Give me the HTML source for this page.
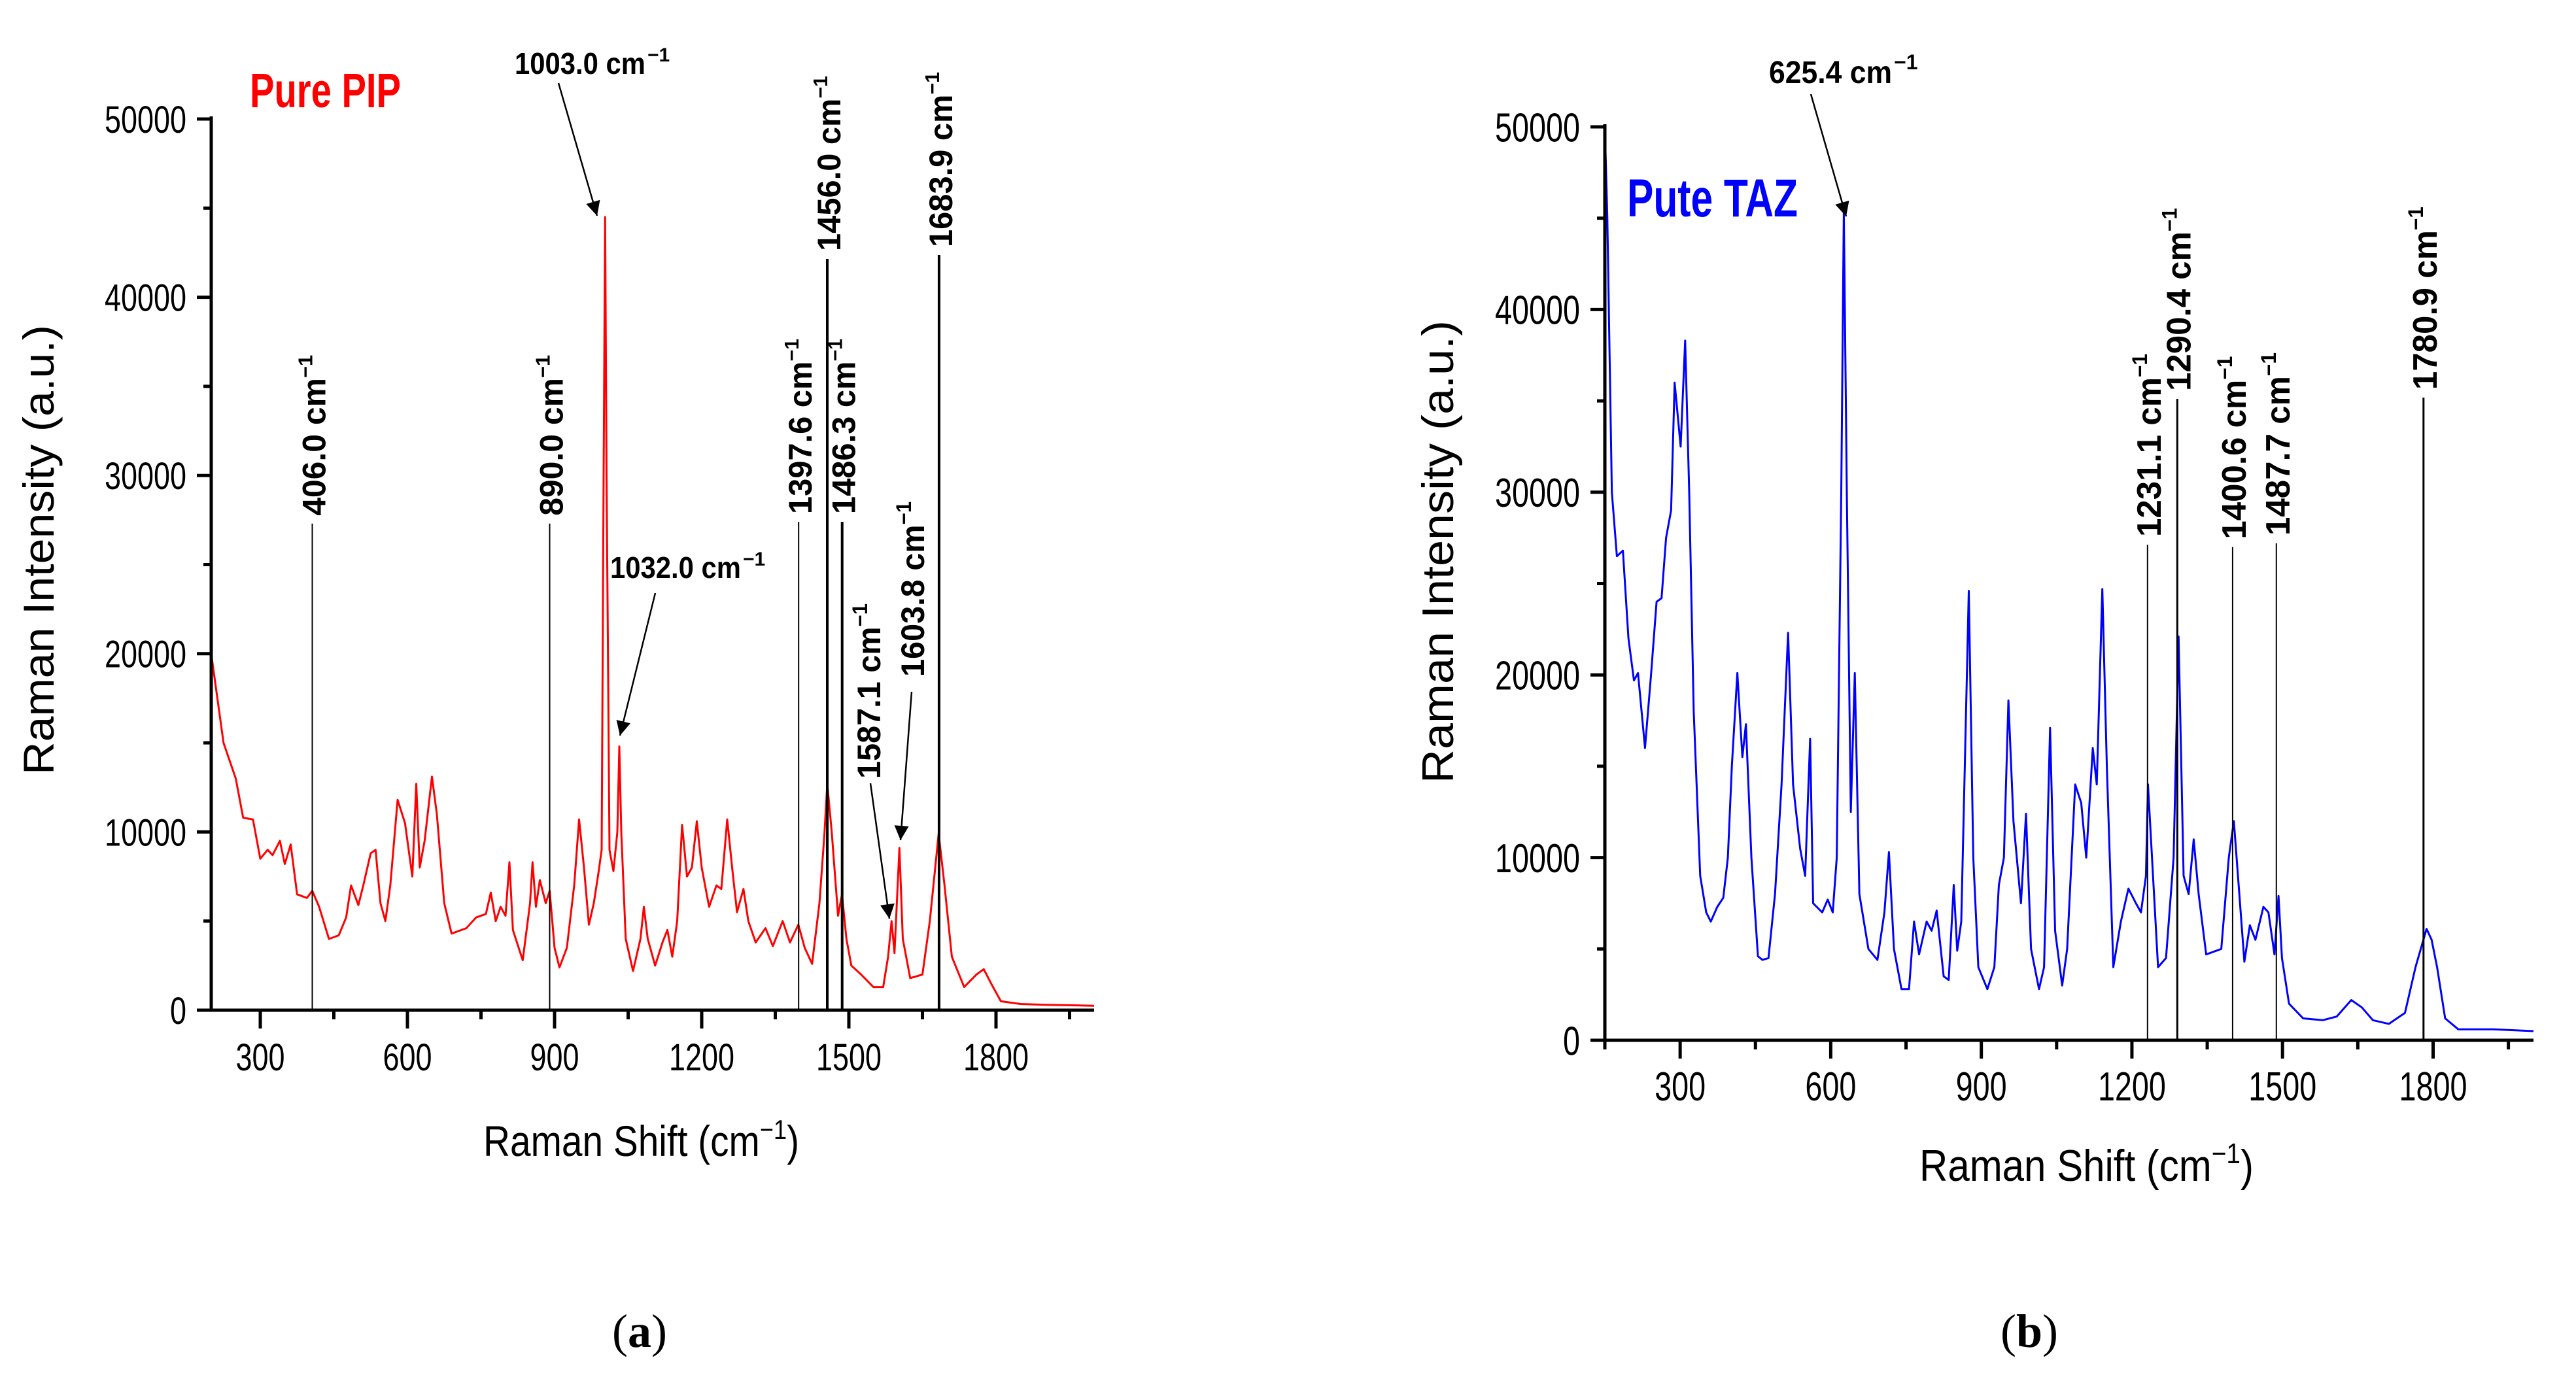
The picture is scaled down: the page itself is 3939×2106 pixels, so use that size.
<!DOCTYPE html>
<html><head><meta charset="utf-8"><style>
html,body{margin:0;padding:0;background:#fff;}
svg{display:block;}
text{font-family:"Liberation Sans",Arial,sans-serif;}
</style></head>
<body>
<svg id="fig" width="3939" height="2106" viewBox="0 0 3939 2106" xmlns="http://www.w3.org/2000/svg">
<defs>
<marker id="ahb" viewBox="0 0 10 10" refX="10" refY="5" markerWidth="36" markerHeight="22" orient="auto" markerUnits="userSpaceOnUse"><path d="M0,0 L10,5 L0,10 z" fill="#000"/></marker>
<clipPath id="clipA"><rect x="323" y="150" width="1360" height="1395"/></clipPath>
<clipPath id="clipB"><rect x="2454" y="150" width="1430" height="1441"/></clipPath>
</defs>
<g id="panelA"></g>
<g id="panelB"></g>
<!-- Panel A static text -->
<text x="382" y="164" font-size="74" font-weight="bold" fill="#ff0000" textLength="231" lengthAdjust="spacingAndGlyphs">Pure PIP</text>
<text x="82" y="841" transform="rotate(-90 82 841)" text-anchor="middle" font-size="66" textLength="688" lengthAdjust="spacingAndGlyphs">Raman Intensity (a.u.)</text>
<text x="739" y="1768" font-size="66" textLength="483" lengthAdjust="spacingAndGlyphs">Raman Shift (cm<tspan dy="-26" font-size="42">−1</tspan><tspan dy="26">)</tspan></text>
<text x="787" y="113" font-size="46" font-weight="bold" textLength="200" lengthAdjust="spacingAndGlyphs">1003.0 cm</text>
<text x="990" y="94" font-size="30" font-weight="bold">−1</text>
<line x1="854" y1="127" x2="913" y2="330" stroke="#000" stroke-width="2.5" marker-end="url(#ahb)"/>
<text x="933" y="884" font-size="46" font-weight="bold" textLength="200" lengthAdjust="spacingAndGlyphs">1032.0 cm</text>
<text x="1136" y="865" font-size="30" font-weight="bold">−1</text>
<line x1="1002" y1="907" x2="948" y2="1125" stroke="#000" stroke-width="2.5" marker-end="url(#ahb)"/>
<text x="1346" y="1191" transform="rotate(-90 1346 1191)" font-size="50" font-weight="bold" textLength="268" lengthAdjust="spacingAndGlyphs">1587.1 cm<tspan dy="-20" font-size="32">−1</tspan></text>
<line x1="1331" y1="1198" x2="1360" y2="1405" stroke="#000" stroke-width="2.5" marker-end="url(#ahb)"/>
<text x="1413" y="1035" transform="rotate(-90 1413 1035)" font-size="50" font-weight="bold" textLength="268" lengthAdjust="spacingAndGlyphs">1603.8 cm<tspan dy="-20" font-size="32">−1</tspan></text>
<line x1="1394" y1="1058" x2="1377" y2="1285" stroke="#000" stroke-width="2.5" marker-end="url(#ahb)"/>
<text x="978" y="2060" text-anchor="middle" font-size="72" style="font-family:'Liberation Serif',serif">(<tspan font-weight="bold">a</tspan>)</text>
<!-- Panel B static text -->
<text x="2488" y="331" font-size="82" font-weight="bold" fill="#0000ff" textLength="261" lengthAdjust="spacingAndGlyphs">Pute TAZ</text>
<text x="2222" y="844" transform="rotate(-90 2222 844)" text-anchor="middle" font-size="68" textLength="708" lengthAdjust="spacingAndGlyphs">Raman Intensity (a.u.)</text>
<text x="2935" y="1806" font-size="68" textLength="511" lengthAdjust="spacingAndGlyphs">Raman Shift (cm<tspan dy="-27" font-size="44">−1</tspan><tspan dy="27">)</tspan></text>
<text x="2705" y="127" font-size="48" font-weight="bold" textLength="188" lengthAdjust="spacingAndGlyphs">625.4 cm</text>
<text x="2896" y="106" font-size="32" font-weight="bold">−1</text>
<line x1="2769" y1="144" x2="2823" y2="331" stroke="#000" stroke-width="2.5" marker-end="url(#ahb)"/>
<text x="3103" y="2060" text-anchor="middle" font-size="72" style="font-family:'Liberation Serif',serif">(<tspan font-weight="bold">b</tspan>)</text>
</svg>
<script>
// ---- Panel A (Pure PIP) data ----
const pipShift = [200,210,225,250,265,285,300,315,325,340,350,362,375,395,406,420,440,460,475,485,500,510,525,535,545,555,565,580,595,610,618,625,635,650,660,675,690,720,740,760,770,780,790,800,808,815,835,850,855,862,870,882,890,900,910,925,940,950,960,970,980,990,996,1000,1003,1006,1012,1020,1028,1032,1036,1045,1060,1075,1082,1090,1105,1120,1130,1140,1150,1160,1170,1180,1190,1200,1215,1230,1240,1252,1262,1272,1285,1295,1310,1330,1345,1365,1380,1397,1410,1425,1440,1450,1456,1465,1478,1486,1495,1505,1525,1550,1570,1580,1587,1593,1603,1610,1625,1650,1665,1683,1695,1710,1735,1760,1775,1790,1810,1850,1900,2000];
const pipIntensity = [20000,18000,15000,13000,10800,10700,8500,9000,8700,9500,8200,9300,6500,6300,6700,5800,4000,4200,5200,7000,5900,7000,8800,9000,6000,5000,7000,11800,10500,7500,12700,8000,9500,13100,11000,6000,4300,4600,5200,5400,6600,5000,5800,5300,8300,4500,2800,6000,8300,5800,7300,6000,6700,3500,2400,3500,7000,10700,8000,4800,6000,7800,9000,30000,44500,30000,9000,7800,10000,14800,10000,4000,2200,4000,5800,4000,2500,3800,4500,3000,5000,10400,7500,8000,10600,8000,5800,7000,6800,10700,8000,5500,6800,5000,3800,4600,3600,5000,3800,4800,3500,2600,6000,9800,12700,10000,5300,6500,4000,2500,2000,1300,1300,3000,5000,3200,9100,4000,1800,2000,5000,9900,7000,3000,1300,2000,2300,1500,500,350,300,250];
const pipLinePeaks = [406.0,890.0,1397.6,1456.0,1486.3,1683.9];
const pipLineTops = [27300,27300,27400,42150,27400,42370];
const pipLineLabels = ["406.0","890.0","1397.6","1456.0","1486.3","1683.9"];
const pipLineWidths = [2,2,2,4,4,4];
// ---- Panel B (Pute TAZ) data ----
const tazShift = [150,155,164,174,186,197,208,216,230,242,253,263,272,282,289,301,310,318,327,340,352,361,374,386,395,403,414,424,431,442,455,464,476,489,502,515,525,539,549,559,565,583,594,604,612,621,626,632,640,648,657,675,693,707,716,726,741,756,766,776,791,801,811,825,835,845,852,860,875,884,894,912,926,935,945,954,964,979,989,999,1015,1025,1037,1047,1061,1071,1087,1099,1109,1122,1130,1141,1150,1163,1178,1193,1208,1218,1228,1232,1242,1252,1268,1283,1293,1303,1313,1323,1333,1348,1378,1393,1403,1414,1424,1435,1446,1462,1472,1484,1492,1499,1513,1541,1580,1608,1637,1658,1680,1712,1744,1765,1787,1797,1808,1824,1850,1920,2000];
const tazIntensity = [50000,45000,30000,26500,26800,22000,19700,20100,16000,20000,24000,24200,27500,29000,36000,32500,38300,30000,18000,9000,7000,6500,7300,7800,10000,15000,20100,15500,17300,10000,4600,4400,4500,8000,14000,22300,14000,10500,9000,16500,7500,7000,7700,7000,10000,30000,45300,30000,12500,20100,8000,5000,4400,7000,10300,5000,2800,2800,6500,4700,6500,6000,7100,3500,3300,8500,4900,6500,24600,10000,4000,2800,4000,8500,10000,18600,12000,7500,12400,5000,2800,4000,17100,6000,3000,5000,14000,13000,10000,16000,14000,24700,15000,4000,6500,8300,7500,7000,9000,14000,9000,4000,4500,10000,22100,9000,8000,11000,8000,4700,5000,10000,12000,8000,4300,6300,5500,7300,7000,4700,7900,4500,2000,1200,1100,1300,2200,1800,1100,900,1500,4000,6100,5500,4000,1200,600,600,500];
const tazLinePeaks = [1231.1,1290.4,1400.6,1487.7,1780.9];
const tazLineTops = [27130,35110,27000,27200,35180];
const tazLineLabels = ["1231.1","1290.4","1400.6","1487.7","1780.9"];
const tazLineWidths = [2,3,2,2,3];
const yTicks = [0,10000,20000,30000,40000,50000];
const xTicks = [300,600,900,1200,1500,1800];

const NS = "http://www.w3.org/2000/svg";
function mk(tag, attrs, parent){const e=document.createElementNS(NS,tag);for(const k in attrs)e.setAttribute(k,attrs[k]);parent.appendChild(e);return e;}

function buildPanel(g, cfg){
  const X = v => cfg.x0 + (v - cfg.xmin) * (cfg.x1 - cfg.x0) / (cfg.xmax - cfg.xmin);
  const Y = v => cfg.y0 - v * (cfg.y0 - cfg.y50) / 50000;
  let d = "";
  cfg.xs.forEach((xv,i)=>{ d += (i?"L":"M") + X(xv).toFixed(1) + "," + Y(cfg.ys[i]).toFixed(1); });
  const path = mk("path",{d:d,fill:"none",stroke:cfg.color,"stroke-width":3,"stroke-linejoin":"round","clip-path":cfg.clip},g);
  
  
  cfg.peaks.forEach((p,i)=>{
    const lx = X(p), top = Y(cfg.tops[i]);
    const ln = mk("line",{x1:lx,x2:lx,y1:cfg.y0,y2:top,stroke:"#000","stroke-width":cfg.widths[i]},g);
    
    
    const bx = lx + 20, by = top - 12;
    const len = cfg.labels[i].length >= 6 ? cfg.annLen : cfg.annLen - 22;
    const t = mk("text",{x:bx,y:by,transform:`rotate(-90 ${bx} ${by})`,"font-size":cfg.annFont,"font-weight":"bold",textLength:len,lengthAdjust:"spacingAndGlyphs"},g);
    
    
    t.textContent = cfg.labels[i] + " cm";
    const s = mk("tspan",{dy:-cfg.annFont*0.4,"font-size":cfg.annFont*0.62},t);
    s.textContent = "\u22121";
  });
  const ax = mk("path",{d:`M${cfg.x0},${cfg.y50-4} L${cfg.x0},${cfg.y0} L${cfg.x1},${cfg.y0}`,fill:"none",stroke:"#000","stroke-width":5},g);
  
  
  for(let v=0; v<=50000; v+=5000){
    const major = v % 10000 === 0;
    mk("line",{x1:cfg.x0-(major?22:12),x2:cfg.x0,y1:Y(v),y2:Y(v),stroke:"#000","stroke-width":5},g);
  }
  yTicks.forEach(v=>{
    const t = mk("text",{x:cfg.x0-38,y:Y(v)+cfg.tickFont*0.36,"text-anchor":"end","font-size":cfg.tickFont,textLength:String(v).length*cfg.digitW,lengthAdjust:"spacingAndGlyphs"},g);
    
    
    t.textContent = v;
  });
  for(let v=Math.ceil(cfg.xmin/150)*150; v<=cfg.xmax; v+=150){
    const major = v % 300 === 0;
    mk("line",{x1:X(v),x2:X(v),y1:cfg.y0,y2:cfg.y0+(major?28:14),stroke:"#000","stroke-width":5},g);
  }
  xTicks.forEach(v=>{
    const t = mk("text",{x:X(v),y:cfg.xLabelY,"text-anchor":"middle","font-size":cfg.tickFont,textLength:String(v).length*cfg.digitW,lengthAdjust:"spacingAndGlyphs"},g);
    
    
    t.textContent = v;
  });
}

const gA = document.getElementById("panelA");
buildPanel(gA,{x0:323,x1:1673,xmin:200,xmax:2000,y0:1545,y50:182,xs:pipShift,ys:pipIntensity,color:"#ff0000",clip:"url(#clipA)",seriesName:"pip-spectrum",
  peaks:pipLinePeaks,tops:pipLineTops,labels:pipLineLabels,widths:pipLineWidths,annFont:50,annLen:268,tickFont:58,digitW:25,xLabelY:1637});
const gB = document.getElementById("panelB");
buildPanel(gB,{x0:2454,x1:3874,xmin:150,xmax:2000,y0:1591,y50:194,xs:tazShift,ys:tazIntensity,color:"#0000ff",clip:"url(#clipB)",seriesName:"taz-spectrum",
  peaks:tazLinePeaks,tops:tazLineTops,labels:tazLineLabels,widths:tazLineWidths,annFont:52,annLen:280,tickFont:62,digitW:26,xLabelY:1683});
</script>
</body></html>
